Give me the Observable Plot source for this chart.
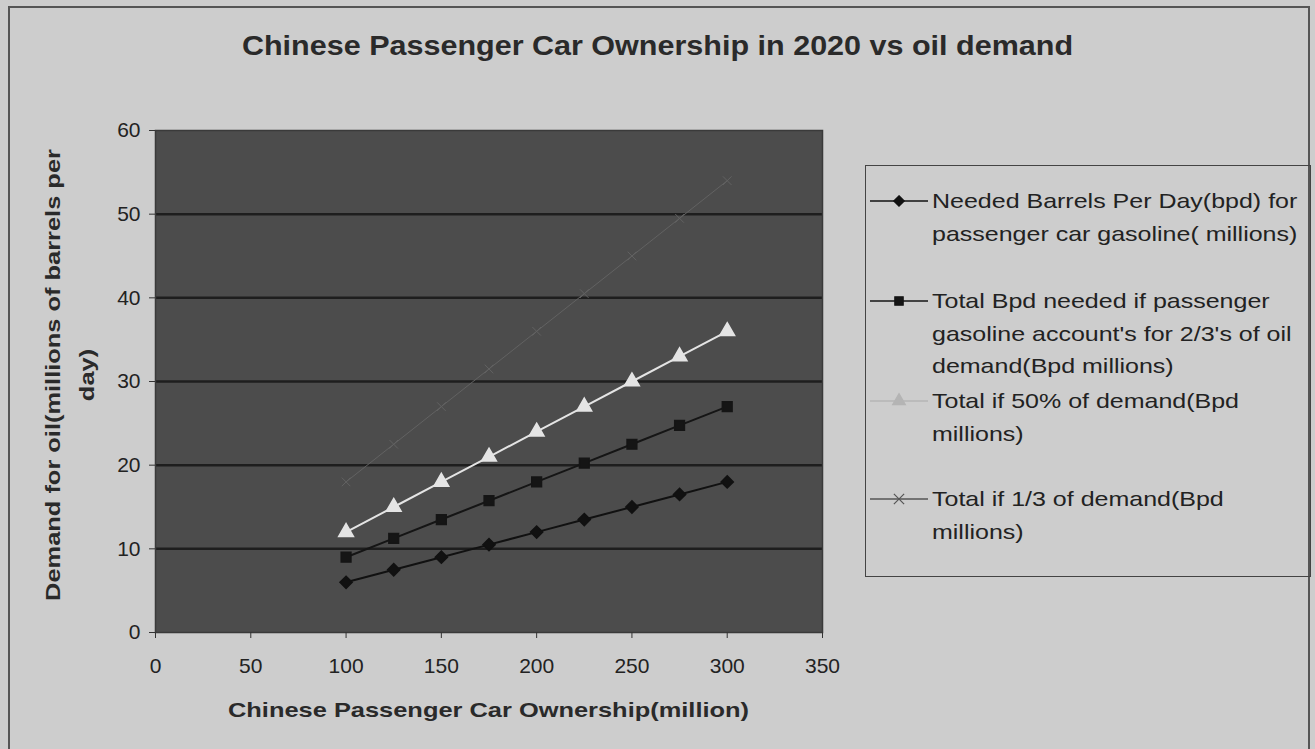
<!DOCTYPE html>
<html><head><meta charset="utf-8">
<script src="https://cdn.jsdelivr.net/npm/d3@7"></script>
<script src="https://cdn.jsdelivr.net/npm/@observablehq/plot@0.6"></script>
<style>
html,body{margin:0;padding:0;background:#cdcdcd;overflow:hidden}
#wrap{position:relative;width:1315px;height:749px;font-family:"Liberation Sans",Arial,sans-serif;color:#222;overflow:hidden}
#border{position:absolute;left:8px;top:6px;width:1302px;height:770px;border:2px solid #555;box-sizing:border-box}
#title{position:absolute;left:0;width:1315px;top:30px;text-align:center;font-weight:bold;font-size:28px;color:#2a2a2a;transform:scaleX(1.09)}
#xtitle{position:absolute;left:155px;width:667px;top:698px;text-align:center;font-weight:bold;font-size:21px;color:#2a2a2a;transform:scaleX(1.21)}
#ytitle{position:absolute;left:70px;top:375px;width:500px;margin-left:-250px;margin-top:-34px;line-height:34px;text-align:center;font-weight:bold;font-size:21px;transform:rotate(-90deg) scaleX(1.21);color:#2a2a2a}
#legend{position:absolute;left:865px;top:165px;width:446px;height:412px;border:1.5px solid #444;box-sizing:border-box}
.entry{position:absolute;left:0;width:440px}
.entry svg{position:absolute;left:4px;top:0}
.entry .txt{position:absolute;left:66px;font-size:21px;line-height:32.5px;color:#222;white-space:nowrap;transform-origin:0 0;transform:scaleX(1.19)}
#chart{position:absolute;left:0;top:0}
</style></head>
<body><div id="wrap">
<div id="border"></div>
<div id="chart"></div>
<div id="title">Chinese Passenger Car Ownership in 2020 vs oil demand</div>
<div id="xtitle">Chinese Passenger Car Ownership(million)</div>
<div id="ytitle">Demand for oil(millions of barrels per<br>day)</div>
<div id="legend"></div>
</div>
<script>
// ---- data ----
const ownership = [100, 125, 150, 175, 200, 225, 250, 275, 300];
const neededBpd = [6, 7.5, 9, 10.5, 12, 13.5, 15, 16.5, 18];
const bpdTwoThirds = [9, 11.25, 13.5, 15.75, 18, 20.25, 22.5, 24.75, 27];
const bpdHalf = [12, 15, 18, 21, 24, 27, 30, 33, 36];
const bpdOneThird = [18, 22.5, 27, 31.5, 36, 40.5, 45, 49.5, 54];
const seriesNames = [
  "Needed Barrels Per Day(bpd) for passenger car gasoline( millions)",
  "Total Bpd needed if passenger gasoline account's for 2/3's of oil demand(Bpd millions)",
  "Total if 50% of demand(Bpd millions)",
  "Total if 1/3 of demand(Bpd millions)"
];
const legendLines = [
  ["Needed Barrels Per Day(bpd) for", "passenger car gasoline( millions)"],
  ["Total Bpd needed if passenger", "gasoline account's for 2/3's  of oil", "demand(Bpd millions)"],
  ["Total if 50% of demand(Bpd", "millions)"],
  ["Total if 1/3 of demand(Bpd", "millions)"]
];
const xTicks = [0, 50, 100, 150, 200, 250, 300, 350];
const yTicks = [0, 10, 20, 30, 40, 50, 60];

// ---- styles ----
const seriesColors = ["#111111", "#151515", "#e4e4e4", "#626262"];
const legendColors = ["#111111", "#151515", "#b4b4b4", "#555555"];
const seriesSymbols = ["diamond2", "square", "triangle", "times"];

const values = [neededBpd, bpdTwoThirds, bpdHalf, bpdOneThird];
const rows = seriesNames.flatMap((s, i) => ownership.map((x, j) => ({series: s, x, y: values[i][j]})));

const chart = Plot.plot({
  width: 1315, height: 749,
  marginLeft: 155, marginRight: 493, marginTop: 130, marginBottom: 117,
  style: {background: "transparent", fontFamily: "Liberation Sans, Arial, sans-serif", fontSize: "21px", color: "#222"},
  x: {domain: [0, 350], label: null},
  y: {domain: [0, 60], label: null},
  color: {domain: seriesNames, range: seriesColors},
  symbol: {domain: seriesNames, range: seriesSymbols},
  marks: [
    Plot.frame({fill: "#4c4c4c", stroke: "none"}),
    Plot.gridY(yTicks.filter(d => d > 0 && d < 60), {stroke: "#1e1e1e", strokeOpacity: 1, strokeWidth: 2.5}),
    Plot.frame({stroke: "#3a3a3a", strokeWidth: 1.5}),
    Plot.axisX(xTicks, {tickSize: 6, tickPadding: 20, stroke: "#333", fill: "#222"}),
    Plot.axisY(yTicks, {tickSize: 6, tickPadding: 9, stroke: "#333", fill: "#222"}),
    Plot.line(rows.filter(d => d.series === seriesNames[3]), {x: "x", y: "y", stroke: "series", strokeWidth: 1}),
    Plot.dot(rows.filter(d => d.series === seriesNames[3]), {x: "x", y: "y", symbol: "series", stroke: "series", r: 4, strokeWidth: 1}),
    Plot.line(rows.filter(d => d.series !== seriesNames[3]), {x: "x", y: "y", z: "series", stroke: "series", strokeWidth: 2}),
    Plot.dot(rows.filter(d => d.series !== seriesNames[3]), {x: "x", y: "y", symbol: "series", fill: "series", stroke: "series", r: 5.5})
  ]
});
document.getElementById("chart").appendChild(chart);

// ---- legend ----
const entryTops = [19, 119, 219, 317];
const d3Symbols = {diamond2: d3.symbolDiamond2, square: d3.symbolSquare, triangle: d3.symbolTriangle, times: d3.symbolTimes};
const legend = d3.select("#legend");
seriesNames.forEach((s, i) => {
  const e = legend.append("div").attr("class", "entry").style("top", entryTops[i] + "px");
  const svg = e.append("svg").attr("width", 60).attr("height", 32);
  svg.append("line").attr("x1", 0).attr("x2", 58).attr("y1", 16).attr("y2", 16)
    .attr("stroke", legendColors[i]).attr("stroke-width", 1.5);
  const sym = d3.symbol(d3Symbols[seriesSymbols[i]], 70);
  svg.append("path").attr("d", sym()).attr("transform", "translate(29,16)")
    .attr("fill", i === 3 ? "none" : legendColors[i])
    .attr("stroke", legendColors[i]).attr("stroke-width", 1.2);
  const t = e.append("div").attr("class", "txt");
  legendLines[i].forEach((l, k) => { if (k) t.append("br"); t.append("span").text(l); });
});
</script>
</body></html>
